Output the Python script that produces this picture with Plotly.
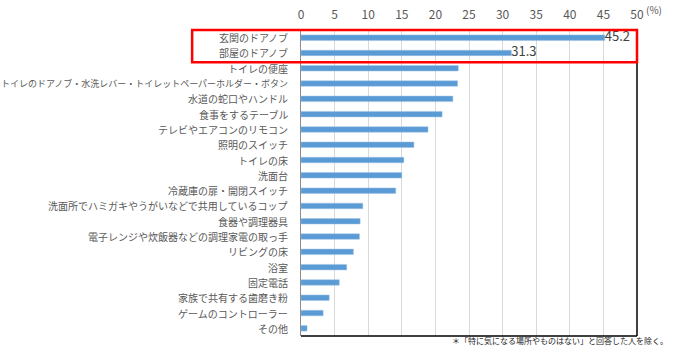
import plotly.graph_objects as go

categories = [
    "玄関のドアノブ",
    "部屋のドアノブ",
    "トイレの便座",
    "トイレのドアノブ・水洗レバー・トイレットペーパーホルダー・ボタン",
    "水道の蛇口やハンドル",
    "食事をするテーブル",
    "テレビやエアコンのリモコン",
    "照明のスイッチ",
    "トイレの床",
    "洗面台",
    "冷蔵庫の扉・開閉スイッチ",
    "洗面所でハミガキやうがいなどで共用しているコップ",
    "食器や調理器具",
    "電子レンジや炊飯器などの調理家電の取っ手",
    "リビングの床",
    "浴室",
    "固定電話",
    "家族で共有する歯磨き粉",
    "ゲームのコントローラー",
    "その他",
]
values = [45.2, 31.3, 23.4, 23.3, 22.6, 21.0, 18.9, 16.8, 15.3, 15.0,
          14.1, 9.2, 8.8, 8.7, 7.8, 6.8, 5.7, 4.2, 3.3, 0.9]
labelled_categories = ["玄関のドアノブ", "部屋のドアノブ"]
labelled_values = [45.2, 31.3]
tick_vals = [0, 5, 10, 15, 20, 25, 30, 35, 40, 45, 50]
unit_label = "(%)"
footnote = "＊「特に気になる場所やものはない」と回答した人を除く。"

FONT = "Noto Sans CJK JP"
GRAY = "#595959"

fig = go.Figure()
fig.add_trace(go.Bar(
    y=categories, x=values, orientation="h",
    marker=dict(color="#5B9BD5", line=dict(color="#9DC3E6", width=0.5)),
    width=0.36,
))
fig.add_trace(go.Scatter(
    y=labelled_categories, x=labelled_values, mode="text",
    text=[f"{v:.1f}" for v in labelled_values], textposition="middle right",
    cliponaxis=False,
    textfont=dict(family=FONT, size=13, color="#404040"),
))

for c in categories:
    size = 9 if len(c) > 28 else 10
    fig.add_annotation(
        x=0, xref="paper", y=c, yref="y", xanchor="right", xshift=-11,
        text=c, showarrow=False, font=dict(family=FONT, size=size, color=GRAY),
    )

fig.add_annotation(x=1, xref="paper", y=1, yref="paper", xanchor="left", yanchor="bottom",
                   xshift=7, yshift=11, text=unit_label, showarrow=False,
                   font=dict(family=FONT, size=10, color=GRAY))
fig.add_annotation(x=1.098, xref="paper", y=-0.016, yref="paper", xanchor="right", yanchor="middle",
                   text=footnote, showarrow=False,
                   font=dict(family=FONT, size=8, color="#262626"))

# frame lines (right and bottom)
fig.add_shape(type="line", xref="paper", yref="paper", x0=1, x1=1, y0=0, y1=1,
              line=dict(color="#000000", width=1.5))
fig.add_shape(type="line", xref="paper", yref="paper", x0=0, x1=1, y0=0, y1=0,
              line=dict(color="#000000", width=1.5))
# red highlight box
fig.add_shape(type="rect", xref="paper", yref="paper", x0=-0.324, x1=1.0, y0=0.895, y1=1.0,
              line=dict(color="#FF0000", width=2.5), fillcolor="rgba(0,0,0,0)", layer="above")

fig.update_layout(
    width=700, height=354,
    margin=dict(l=301, r=63, t=30, b=18, autoexpand=False),
    paper_bgcolor="white", plot_bgcolor="white",
    showlegend=False,
    bargap=0.6,
    xaxis=dict(
        range=[0, 50], side="top", tickvals=tick_vals,
        showgrid=True, gridcolor="#D9D9D9", gridwidth=1,
        zeroline=False, showline=False, ticks="",
        ticklabelstandoff=8, automargin=False,
        tickfont=dict(family=FONT, size=12, color=GRAY),
    ),
    yaxis=dict(
        categoryorder="array", categoryarray=categories,
        range=[len(categories) - 0.5, -0.5],
        showticklabels=False, ticks="", showgrid=False, automargin=False,
        showline=True, linecolor="#8C8C8C", linewidth=1.2,
    ),
)

fig.write_html("out.html")
